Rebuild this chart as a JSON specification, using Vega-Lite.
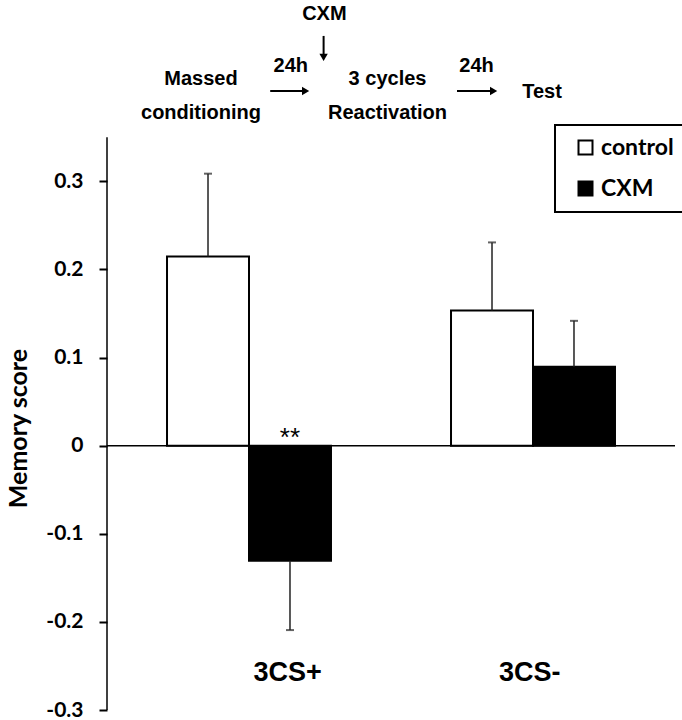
{
  "$schema": "https://vega.github.io/schema/vega-lite/v6.json",
  "width": 568,
  "height": 705,
  "autosize": "none",
  "padding": {"left": 107, "top": 5, "right": 7, "bottom": 10},
  "background": "white",
  "config": {"view": {"stroke": null}, "legend": {"strokeWidth": 2}},
  "datasets": {
    "bars": [
      {"group": "3CS+", "condition": "control", "value": 0.2147, "err": 0.3086},
      {"group": "3CS+", "condition": "CXM", "value": -0.1306, "err": -0.2093},
      {"group": "3CS-", "condition": "control", "value": 0.1533, "err": 0.2306},
      {"group": "3CS-", "condition": "CXM", "value": 0.0894, "err": 0.1416}
    ],
    "zero": [{"y": 0}],
    "stars": [{"group": "3CS+", "condition": "CXM", "y": 0, "label": "**"}],
    "diagramText": [
      {"x": 217.4, "y": 0.4895, "label": "CXM"},
      {"x": 183.8, "y": 0.4312, "label": "24h"},
      {"x": 369.6, "y": 0.4312, "label": "24h"},
      {"x": 94, "y": 0.4163, "label": "Massed"},
      {"x": 94, "y": 0.3776, "label": "conditioning"},
      {"x": 280.5, "y": 0.4163, "label": "3 cycles"},
      {"x": 280.5, "y": 0.3776, "label": "Reactivation"},
      {"x": 435, "y": 0.4015, "label": "Test"}
    ],
    "arrowLines": [
      {"x": 163.2, "x2": 198.6, "y": 0.4024, "y2": 0.4024},
      {"x": 350, "x2": 386.6, "y": 0.4024, "y2": 0.4024},
      {"x": 216.6, "x2": 216.6, "y": 0.4649, "y2": 0.4407}
    ],
    "arrowHeads": [
      {"x": 198.6, "y": 0.4024, "shape": "triangle-right"},
      {"x": 386.6, "y": 0.4024, "shape": "triangle-right"},
      {"x": 216.6, "y": 0.4407, "shape": "triangle-down"}
    ],
    "axisLine": [{"x": 0, "y": -0.3, "y2": 0.35}],
    "catLabels": [
      {"x": 180.7, "y": -0.258, "label": "3CS+"},
      {"x": 422.7, "y": -0.258, "label": "3CS-"}
    ]
  },
  "layer": [
    {
      "layer": [
        {
          "data": {"name": "bars"},
          "mark": {"type": "bar", "stroke": "black", "strokeWidth": 2},
          "encoding": {
            "x": {"field": "group", "type": "nominal", "axis": null, "sort": ["3CS+", "3CS-"],
                  "scale": {"domain": ["3CS+", "3CS-"], "paddingInner": 0, "paddingOuter": 0}},
            "xOffset": {"field": "condition", "type": "nominal", "sort": ["control", "CXM"],
                        "scale": {"domain": ["control", "CXM"], "paddingInner": 0, "paddingOuter": 0.732}},
            "y": {"field": "value", "type": "quantitative",
                  "scale": {"domain": [-0.3, 0.5], "nice": false},
                  "axis": {
                    "values": [-0.3, -0.2, -0.1, 0, 0.1, 0.2, 0.3],
                    "domain": false, "grid": false,
                    "tickSize": 8, "tickWidth": 2, "tickColor": "black",
                    "labelFont": "Lato", "labelFontSize": 21, "labelFontWeight": "bold", "labelColor": "black",
                    "labelPadding": 16,
                    "labelExpr": "datum.value == 0 ? '0' : (datum.value < 0 ? '-' : '') + format(abs(datum.value), '.1f')",
                    "title": "Memory score",
                    "titleFont": "Lato", "titleFontSize": 25, "titleFontWeight": "bold", "titleColor": "black",
                    "titleX": -89, "titleY": 423, "titleAngle": -90, "titleAlign": "center", "titleBaseline": "middle"
                  }},
            "fill": {"field": "condition", "type": "nominal",
                     "scale": {"domain": ["control", "CXM"], "range": ["white", "black"]},
                     "legend": {
                       "title": null, "orient": "none", "legendX": 448, "legendY": 120,
                       "strokeColor": "black", "padding": 11,
                       "symbolType": "square", "symbolSize": 196, "symbolStrokeColor": "black", "symbolStrokeWidth": 2,
                       "symbolOffset": 8, "labelOffset": 4, "rowPadding": 17,
                       "labelFont": "Lato", "labelFontSize": 23, "labelFontWeight": "bold", "labelColor": "black"
                     }}
          }
        },
        {
          "data": {"name": "bars"},
          "mark": {"type": "rule", "color": "#222", "strokeWidth": 1.5},
          "encoding": {
            "x": {"field": "group", "type": "nominal", "axis": null},
            "xOffset": {"field": "condition", "type": "nominal"},
            "y": {"field": "value", "type": "quantitative"},
            "y2": {"field": "err"}
          }
        },
        {
          "data": {"name": "bars"},
          "mark": {"type": "tick", "color": "#222", "size": 8, "thickness": 2, "orient": "horizontal"},
          "encoding": {
            "x": {"field": "group", "type": "nominal", "axis": null},
            "xOffset": {"field": "condition", "type": "nominal"},
            "y": {"field": "err", "type": "quantitative"}
          }
        },
        {
          "data": {"name": "zero"},
          "mark": {"type": "rule", "color": "black", "strokeWidth": 1.5},
          "encoding": {"y": {"field": "y", "type": "quantitative"}}
        },
        {
          "data": {"name": "stars"},
          "mark": {"type": "text", "font": "Liberation Sans", "fontSize": 26, "baseline": "alphabetic", "align": "center", "color": "black"},
          "encoding": {
            "x": {"field": "group", "type": "nominal", "axis": null},
            "xOffset": {"field": "condition", "type": "nominal"},
            "y": {"field": "y", "type": "quantitative"},
            "text": {"field": "label"}
          }
        }
      ]
    },
    {
      "layer": [
        {
          "data": {"name": "axisLine"},
          "mark": {"type": "rule", "color": "black", "strokeWidth": 1.5},
          "encoding": {
            "x": {"field": "x", "type": "quantitative", "axis": null, "scale": {"domain": [0, 568], "nice": false, "zero": false}},
            "y": {"field": "y", "type": "quantitative"},
            "y2": {"field": "y2"}
          }
        },
        {
          "data": {"name": "diagramText"},
          "mark": {"type": "text", "font": "Liberation Sans", "fontSize": 20, "fontWeight": "bold", "baseline": "middle", "align": "center", "color": "black"},
          "encoding": {
            "x": {"field": "x", "type": "quantitative", "axis": null},
            "y": {"field": "y", "type": "quantitative"},
            "text": {"field": "label"}
          }
        },
        {
          "data": {"name": "arrowLines"},
          "mark": {"type": "rule", "color": "black", "strokeWidth": 2},
          "encoding": {
            "x": {"field": "x", "type": "quantitative", "axis": null},
            "x2": {"field": "x2"},
            "y": {"field": "y", "type": "quantitative"},
            "y2": {"field": "y2"}
          }
        },
        {
          "data": {"name": "arrowHeads"},
          "mark": {"type": "point", "filled": true, "color": "black", "size": 70, "opacity": 1},
          "encoding": {
            "x": {"field": "x", "type": "quantitative", "axis": null},
            "y": {"field": "y", "type": "quantitative"},
            "shape": {"field": "shape", "type": "nominal", "scale": null, "legend": null}
          }
        },
        {
          "data": {"name": "catLabels"},
          "mark": {"type": "text", "font": "Liberation Sans", "fontSize": 27, "fontWeight": "bold", "baseline": "middle", "align": "center", "color": "black"},
          "encoding": {
            "x": {"field": "x", "type": "quantitative", "axis": null},
            "y": {"field": "y", "type": "quantitative"},
            "text": {"field": "label"}
          }
        }
      ]
    }
  ],
  "resolve": {"scale": {"x": "independent"}}
}
